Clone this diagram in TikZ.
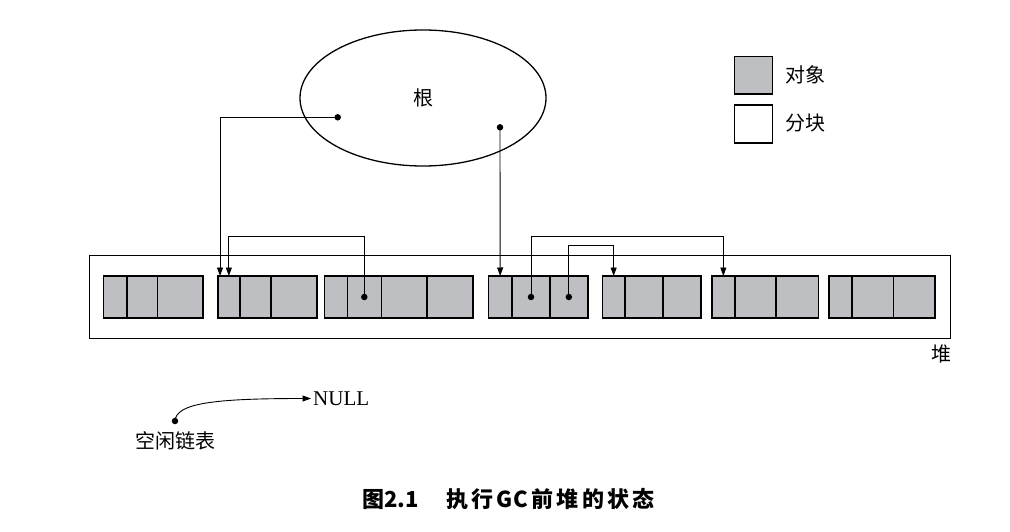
\documentclass[tikz,border=0pt]{standalone}
\usepackage{fontspec}
\setmainfont{Liberation Serif}
\newfontfamily\cjk{Noto Sans CJK SC}
\usetikzlibrary{shapes.geometric,arrows.meta,calc}
\definecolor{objgray}{RGB}{190,191,194}
\tikzset{
  x=1pt,y=-1pt,
  cell/.style={draw, fill=objgray, line width=1.6pt, minimum height=42pt, inner sep=0pt, outer sep=0pt},
  blank/.style={draw, fill=white, line width=1.6pt, inner sep=0pt, outer sep=0pt},
  conn/.style={line width=0.9pt, -{Triangle[length=8.5pt,width=6pt]}},
  lbl/.style={font=\fontsize{20}{24}\selectfont\cjk, inner sep=1pt},
  dot/.style={circle, fill=black, inner sep=0pt, minimum size=6.5pt}
}
\newcommand{\cs}{\kern3.2pt}
\begin{document}
\begin{tikzpicture}
\useasboundingbox (0,0) rectangle (1010,532);
% heap
\node[draw, line width=1.3pt, minimum width=861pt, minimum height=83pt, inner sep=0pt, anchor=north west] (heap) at (89,255) {};
\node[lbl, anchor=center] (heaplbl) at (941,354) {堆};
% block 1
\node[cell, minimum width=23.4pt] (b1a) at (115,297) {};
\node[cell, minimum width=30.6pt] (b1b) at (142,297) {};
\node[cell, minimum width=45.4pt] (b1c) at (180,297) {};
% block 2
\node[cell, minimum width=22.3pt] (b2a) at (228.85,297) {};
\node[cell, minimum width=30.7pt] (b2b) at (255.35,297) {};
\node[cell, minimum width=46pt] (b2c) at (293.7,297) {};
% block 3
\node[cell, minimum width=23pt] (b3a) at (335.8,297) {};
\node[cell, minimum width=34pt] (b3b) at (364.3,297) {};
\node[cell, minimum width=45.4pt] (b3c) at (404,297) {};
\node[cell, minimum width=46pt] (b3d) at (449.7,297) {};
% block 4
\node[cell, minimum width=23.7pt] (b4a) at (500.15,297) {};
\node[cell, minimum width=38pt] (b4b) at (531,297) {};
\node[cell, minimum width=37.7pt] (b4c) at (568.85,297) {};
% block 5
\node[cell, minimum width=22.7pt] (b5a) at (613.65,297) {};
\node[cell, minimum width=38pt] (b5b) at (644,297) {};
\node[cell, minimum width=38pt] (b5c) at (682,297) {};
% block 6
\node[cell, minimum width=23.3pt] (b6a) at (723.35,297) {};
\node[cell, minimum width=41pt] (b6b) at (755.5,297) {};
\node[cell, minimum width=42.3pt] (b6c) at (797.15,297) {};
% block 7
\node[cell, minimum width=22.7pt] (b7a) at (840.35,297) {};
\node[cell, minimum width=41.6pt] (b7b) at (872.5,297) {};
\node[cell, minimum width=41.7pt] (b7c) at (914.15,297) {};
% root
\node[ellipse, draw, line width=1.3pt, minimum width=246pt, minimum height=136pt, font=\fontsize{20}{24}\selectfont\cjk] (root) at (423,98) {根};
\node[dot] (r1) at (337.7,117.3) {};
\node[dot] (r2) at (500,127.3) {};
\coordinate (r1end) at ($(b2a.north west)+(2.3,0)$);
\draw[conn] (r1.center) -| (r1end);
\draw[conn] (r2.center) -- (b4a.north);
% pointers inside heap
\node[dot] (d1) at (b3b.center) {};
\node[dot] (d2) at (b4b.center) {};
\node[dot] (d3) at (b4c.center) {};
\coordinate (ya) at (0,236);
\coordinate (yb) at (0,245.7);
\draw[conn] (d1.center) -- (d1.center |- ya) -| (b2a.north);
\draw[conn] (d2.center) -- (d2.center |- ya) -| (b6a.north);
\draw[conn] (d3.center) -- (d3.center |- yb) -| (b5a.north);
% legend
\node[cell, minimum width=38pt, minimum height=37.6pt] (legobj) at (753.5,75.5) {};
\node[blank, minimum width=38pt, minimum height=37.6pt] (legchunk) at (753.5,124) {};
\node[lbl, anchor=west] (legobjt) at (784,75) {对象};
\node[lbl, anchor=west] (legchunkt) at (784,123) {分块};
% free list
\node[dot] (fl) at (175,421) {};
\node[lbl] (fllbl) at (175,441) {空闲链表};
\node[font=\fontsize{21}{25}\selectfont, anchor=west, inner sep=2pt] (null) at (311,398.5) {NULL};
\draw[conn] (fl.center) .. controls (176,403) and (215,398.5) .. (null.west);
% caption
\node[font=\fontsize{22}{26}\selectfont\cjk\bfseries, inner sep=0pt, anchor=west] (cap) at (362,499) {图2.1\hspace{1.25em}执\cs 行\cs G\kern1pt C\cs 前\cs 堆\cs 的\cs 状\cs 态};
\end{tikzpicture}
\end{document}
